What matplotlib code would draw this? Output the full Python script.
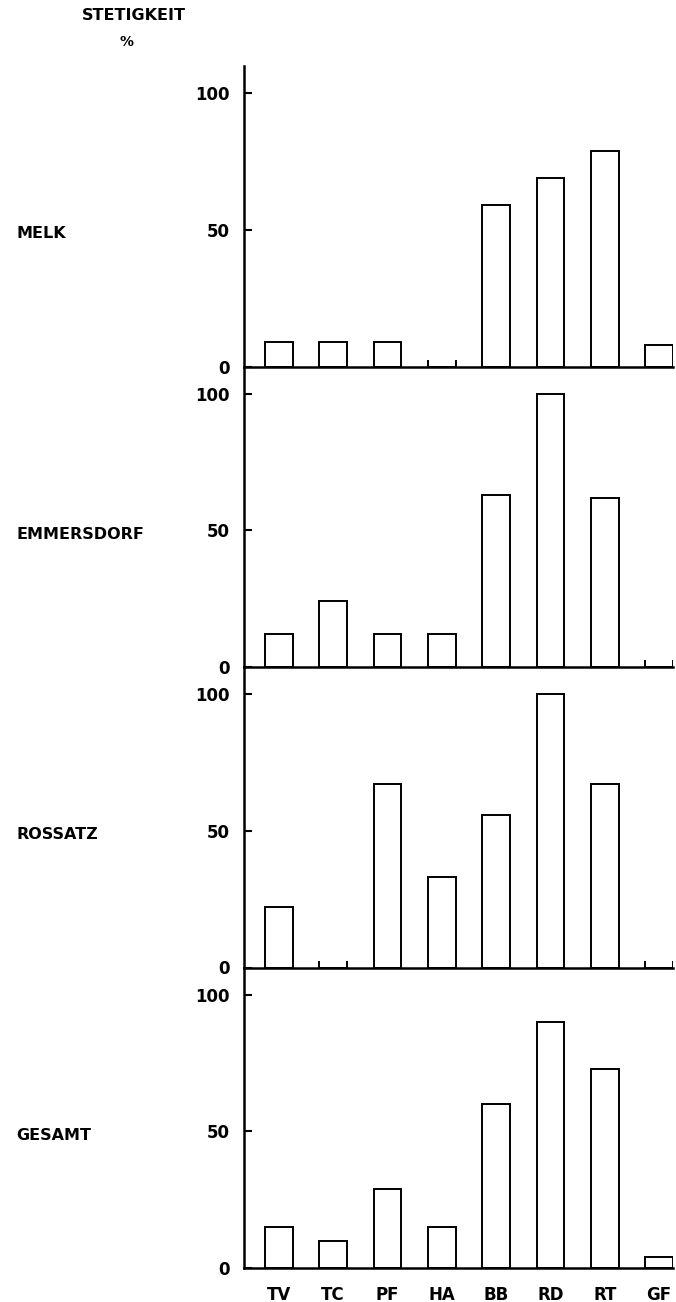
import matplotlib.pyplot as plt
import numpy as np

species = ["TV", "TC", "PF", "HA", "BB", "RD", "RT", "GF"]
sites = ["MELK", "EMMERSDORF", "ROSSATZ", "GESAMT"]
melk = [9, 9, 9, 0, 59, 69, 79, 8]
emmersdorf = [12, 24, 12, 12, 63, 100, 62, 0]
rossatz = [22, 0, 67, 33, 56, 100, 67, 0]
gesamt = [15, 10, 29, 15, 60, 90, 73, 4]
yticks = [0, 50, 100]

plt.rcParams["font.family"] = ["DejaVu Sans"]
plt.rcParams["font.weight"] = "bold"

W, H = 676, 1302
fig = plt.figure(figsize=(W / 100, H / 100), dpi=100)

top_px, bottom_px = 66, 1268
left_px, right_px = 244, 673
panel_h = (bottom_px - top_px) / 4

x = np.arange(len(species))
bw = 0.51

for i, (name, vals) in enumerate(zip(sites, [melk, emmersdorf, rossatz, gesamt])):
    y0 = top_px + i * panel_h
    ax = fig.add_axes([left_px / W, 1 - (y0 + panel_h) / H,
                       (right_px - left_px) / W, panel_h / H])
    ax.set_facecolor("none")
    ax.bar(x, vals, width=bw, color="white", edgecolor="black", linewidth=1.4)
    # short marks where a species was not found
    for xi, v in zip(x, vals):
        if v == 0:
            ax.vlines([xi - bw / 2, xi + bw / 2], 0, 2.5, color="black", lw=1.4)
    ax.set_xlim(-0.64, 7 + bw / 2)
    ax.set_ylim(0, 110)
    for s in ["top", "right"]:
        ax.spines[s].set_visible(False)
    for s in ["left", "bottom"]:
        ax.spines[s].set_linewidth(1.8)
        ax.spines[s].set_zorder(5)
    ax.set_yticks(yticks)
    ax.set_yticklabels([str(t) for t in yticks], fontsize=12)
    ax.tick_params(axis="y", direction="in", length=6, width=1.5, pad=10)
    if i == 3:
        ax.set_xticks(x)
        ax.set_xticklabels(species, fontsize=12)
        ax.tick_params(axis="x", length=0, pad=13)
    else:
        ax.set_xticks([])
    fig.text(16 / W, 1 - (y0 + panel_h - 0.5 * 273) / H - 0.003, name,
             fontsize=11.5, ha="left", va="center")

fig.text(134 / W, 1 - 16 / H, "STETIGKEIT", fontsize=11.5, ha="center", va="center")
fig.text(126 / W, 1 - 42 / H, "%", fontsize=10, ha="center", va="center")

fig.savefig("out.png", dpi=100)
